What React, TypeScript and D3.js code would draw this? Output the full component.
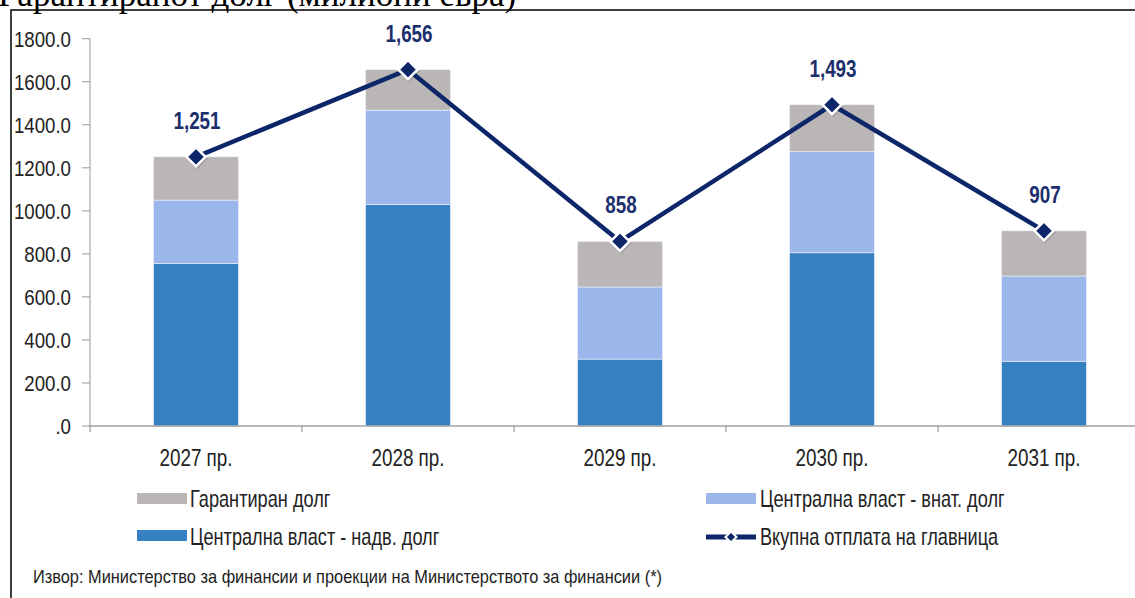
import React from 'react';
import * as d3 from 'd3';

const categories = ['2027 пр.', '2028 пр.', '2029 пр.', '2030 пр.', '2031 пр.'];
const externalDebt = [756, 1030, 311, 805, 301];
const domesticDebt = [294, 438, 335, 470, 396];
const guaranteedDebt = [201, 188, 212, 218, 210];
const totalRepayment = [1251, 1656, 858, 1493, 907];
const yTicks = [0, 200, 400, 600, 800, 1000, 1200, 1400, 1600, 1800];

const seriesNames = {
  guaranteed: 'Гарантиран долг',
  domestic: 'Централна власт - внат. долг',
  external: 'Централна власт - надв. долг',
  total: 'Вкупна отплата на главница',
};
const titleText = 'Гарантиранот долг (милиони евра)';
const sourceText = 'Извор: Министерство за финансии и проекции на Министерството за финансии (*)';

const W = 1135;
const H = 598;
const SANS = "'Liberation Sans', Arial, sans-serif";
const C_EXT = '#3780c2';
const C_DOM = '#9bb6ea';
const C_GUA = '#bab6b5';
const C_LINE = '#0c2669';

function diamond(cx: number, cy: number, r: number) {
  return `M${cx},${cy - r}L${cx + r},${cy}L${cx},${cy + r}L${cx - r},${cy}Z`;
}

type NTextProps = {
  x: number;
  y: number;
  sx: number;
  size: number;
  anchor?: 'start' | 'middle' | 'end';
  dy?: string;
  weight?: string;
  fill?: string;
  children: React.ReactNode;
};

function NText({ x, y, sx, size, anchor = 'start', dy, weight, fill = '#222', children }: NTextProps) {
  return (
    <text
      transform={`translate(${x},${y}) scale(${sx},1)`}
      x={0}
      y={0}
      dy={dy}
      textAnchor={anchor}
      fontFamily={SANS}
      fontSize={size}
      fontWeight={weight}
      fill={fill}
    >
      {children}
    </text>
  );
}

export default function App() {
  const x = d3.scaleBand<string>().domain(categories).range([90, 1150]).paddingInner(0.6).paddingOuter(0.3);
  const y = d3.scaleLinear().domain([0, 1800]).range([426, 38.7]);
  const step = x.step();
  const bw = x.bandwidth();
  const cx = (c: string) => (x(c) as number) + bw / 2;

  const stacked = categories.map((c, i) => {
    const segs = [
      { key: 'ext', v0: 0, v1: externalDebt[i], color: C_EXT },
      { key: 'dom', v0: externalDebt[i], v1: externalDebt[i] + domesticDebt[i], color: C_DOM },
      {
        key: 'gua',
        v0: externalDebt[i] + domesticDebt[i],
        v1: externalDebt[i] + domesticDebt[i] + guaranteedDebt[i],
        color: C_GUA,
      },
    ];
    return { c, segs };
  });

  const line = d3
    .line<number>()
    .x((_, i) => cx(categories[i]))
    .y((d) => y(d));

  const fmtTick = (v: number) => (v === 0 ? '.0' : v.toFixed(1));
  const fmtTotal = d3.format(',');

  const boundaries = d3.range(categories.length + 1).map((i) => 90 + i * step);

  return (
    <svg
      width={W}
      height={H}
      style={{ position: 'absolute', left: 0, top: 0, background: '#fff' }}
    >
      <rect x={0} y={0} width={W} height={H} fill="#fff" />
      {/* cut-off title */}
      <text x={-2} y={5.5} fontFamily="'Liberation Serif', 'DejaVu Serif', serif" fontSize={35} fill="#000">
        {titleText}
      </text>
      {/* frame */}
      <path d={`M11,${H}L11,10L${W},10`} fill="none" stroke="#000" strokeWidth={1.5} />

      {/* y axis */}
      <line x1={90} x2={90} y1={y(1800)} y2={y(0)} stroke="#999" strokeWidth={1} />
      {yTicks.map((t) => (
        <g key={t}>
          <line x1={82} x2={90} y1={y(t)} y2={y(t)} stroke="#999" strokeWidth={1} />
          <NText x={71} y={y(t)} dy="0.35em" anchor="end" size={22.5} sx={0.83}>
            {fmtTick(t)}
          </NText>
        </g>
      ))}

      {/* bars */}
      {stacked.map(({ c, segs }) => (
        <g key={c}>
          {segs.map((s) => (
            <rect
              key={s.key}
              x={x(c)}
              y={y(s.v1)}
              width={bw}
              height={y(s.v0) - y(s.v1)}
              fill={s.color}
              stroke="#eef2fa"
              strokeWidth={0.6}
            />
          ))}
        </g>
      ))}

      {/* x axis */}
      <line x1={90} x2={W} y1={y(0)} y2={y(0)} stroke="#a0a0a0" strokeWidth={1.5} />
      {boundaries.map((b, i) => (
        <line key={i} x1={b} x2={b} y1={y(0)} y2={y(0) + 6} stroke="#888" strokeWidth={1} />
      ))}
      {categories.map((c) => (
        <NText key={c} x={cx(c)} y={466} anchor="middle" size={23} sx={0.82}>
          {c}
        </NText>
      ))}

      {/* total line */}
      <path d={line(totalRepayment) || ''} fill="none" stroke={C_LINE} strokeWidth={4.5} strokeLinejoin="round" />
      {totalRepayment.map((v, i) => (
        <g key={i}>
          <path d={diamond(cx(categories[i]) + 1, y(v) + 1.5, 11)} fill="#000" opacity={0.15} />
          <path d={diamond(cx(categories[i]), y(v), 9.5)} fill={C_LINE} stroke="#fff" strokeWidth={2.5} />
          <NText
            x={cx(categories[i]) + 1}
            y={y(v) - 28}
            anchor="middle"
            weight="bold"
            size={23}
            sx={0.82}
            fill="#1a2f6b"
          >
            {fmtTotal(v)}
          </NText>
        </g>
      ))}

      {/* legend */}
      <rect x={137} y={493} width={50} height={11} fill={C_GUA} />
      <NText x={190} y={499} dy="0.35em" size={23} sx={0.79}>
        {seriesNames.guaranteed}
      </NText>
      <rect x={137} y={530} width={50} height={11} fill={C_EXT} />
      <NText x={190} y={537} dy="0.35em" size={23} sx={0.79}>
        {seriesNames.external}
      </NText>
      <rect x={706} y={493} width={50} height={11} fill={C_DOM} />
      <NText x={760} y={499} dy="0.35em" size={23} sx={0.79}>
        {seriesNames.domestic}
      </NText>
      <line x1={706} x2={756} y1={537} y2={537} stroke={C_LINE} strokeWidth={5} />
      <path d={diamond(731, 537, 5.5)} fill={C_LINE} stroke="#fff" strokeWidth={2} />
      <NText x={760} y={537} dy="0.35em" size={23} sx={0.79}>
        {seriesNames.total}
      </NText>

      {/* source */}
      <NText x={33} y={583} size={18} sx={0.91}>
        {sourceText}
      </NText>
    </svg>
  );
}
